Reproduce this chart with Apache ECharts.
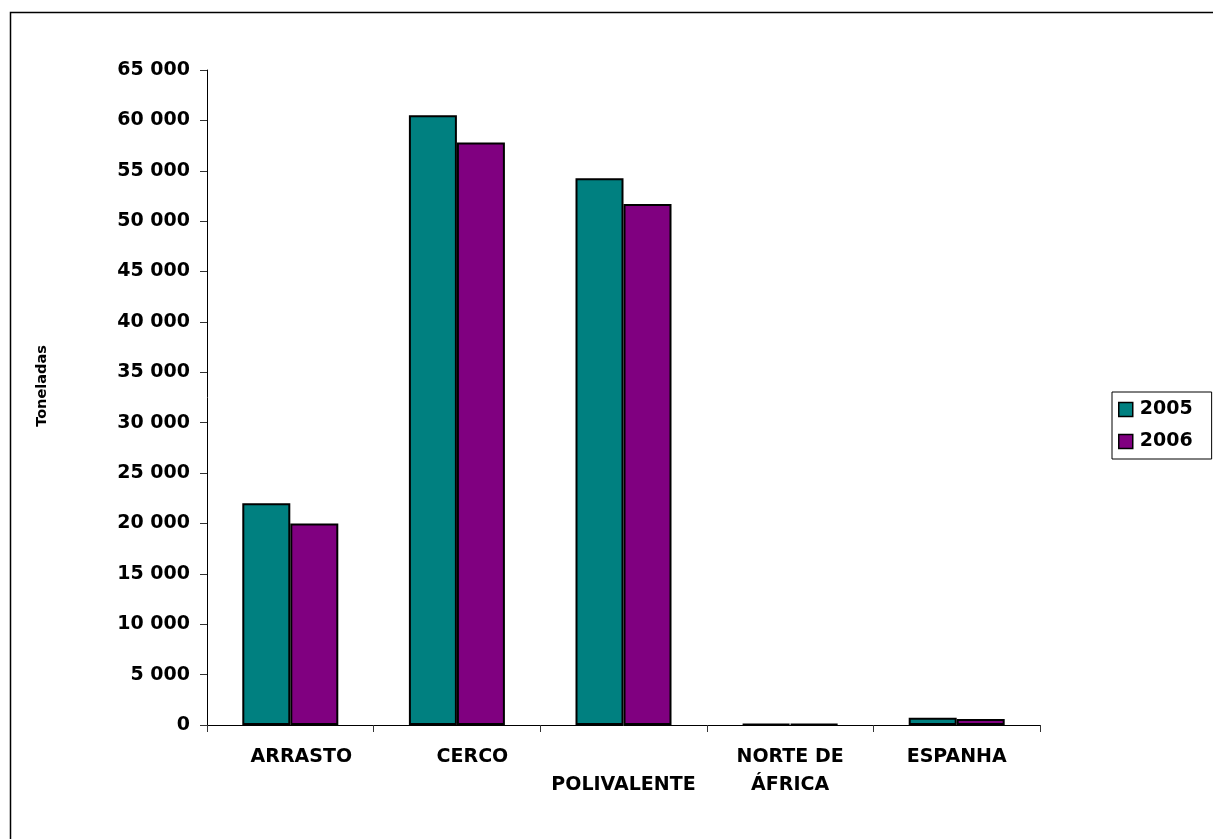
<!DOCTYPE html>
<html>
<head>
<meta charset="utf-8">
<script src="https://cdn.jsdelivr.net/npm/echarts@6/dist/echarts.min.js"></script>
<style>
html,body{margin:0;padding:0;background:#fff;}
#chart{width:1213px;height:839px;}
</style>
</head>
<body>
<div id="chart"></div>
<script>
const categories = ['ARRASTO', 'CERCO', 'POLIVALENTE', 'NORTE DE ÁFRICA', 'ESPANHA'];
const series2005 = [22000, 60500, 54250, 100, 720];
const series2006 = [20000, 57800, 51700, 90, 600];
const seriesNames = ['2005', '2006'];
const yTicks = { min: 0, max: 65000, interval: 5000 };
const yTitle = 'Toneladas';

const FONT = '"DejaVu Sans", Verdana, sans-serif';
const chart = echarts.init(document.getElementById('chart'), null, { renderer: 'canvas' });

function fmtNum(v) {
  return String(v).replace(/\B(?=(\d{3})+(?!\d))/g, ' ');
}
function catLabel(v) {
  if (v === 'ARRASTO') return '{a|ARRASTO}';
  if (v === 'CERCO') return '{b|CERCO}';
  if (v === 'POLIVALENTE') return '{c|}\n{c|POLIVALENTE}';
  if (v === 'NORTE DE ÁFRICA') return '{c|NORTE DE}\n{c|ÁFRICA}';
  return '{c|' + v + '}';
}
const baseRich = { fontFamily: FONT, fontWeight: 'bold', fontSize: 19, color: '#000', lineHeight: 28 };

chart.setOption({
  backgroundColor: '#fff',
  animation: false,
  graphic: [
    { type: 'rect', z: -10, silent: true, shape: { x: 10.5, y: 12.5, width: 1400, height: 1000 },
      style: { fill: 'none', stroke: '#000', lineWidth: 1.5 } },
    { type: 'text', x: 42, y: 386, rotation: Math.PI / 2,
      style: { text: yTitle, font: 'bold 14.5px ' + FONT, fill: '#000', align: 'center', verticalAlign: 'middle' } }
  ],
  grid: { left: 207, right: 173, top: 70, bottom: 114, containLabel: false },
  legend: {
    orient: 'vertical', left: 1112, top: 392,
    data: seriesNames,
    icon: 'rect', itemWidth: 14, itemHeight: 14, itemGap: 13,
    padding: [8, 19, 8, 6],
    borderColor: '#000', borderWidth: 1,
    itemStyle: { borderColor: '#000', borderWidth: 1.5 },
    textStyle: { fontFamily: FONT, fontWeight: 'bold', fontSize: 19, color: '#000', lineHeight: 19, padding: [0, 0, 0, 2] }
  },
  xAxis: {
    type: 'category', data: categories, boundaryGap: true,
    axisLine: { show: true, lineStyle: { color: '#000', width: 1 } },
    axisTick: { show: true, length: 7, lineStyle: { color: '#333', width: 1 } },
    axisLabel: {
      interval: 0, margin: 18, formatter: catLabel,
      rich: {
        a: Object.assign({}, baseRich, { padding: [0, 0, 0, 22] }),
        b: Object.assign({}, baseRich, { padding: [0, 0, 0, 31] }),
        c: Object.assign({}, baseRich)
      }
    },
    splitLine: { show: false }
  },
  yAxis: {
    type: 'value', min: yTicks.min, max: yTicks.max, interval: yTicks.interval,
    axisLine: { show: true, lineStyle: { color: '#000', width: 1 } },
    axisTick: { show: true, length: 7, lineStyle: { color: '#333', width: 1 } },
    axisLabel: { margin: 17, formatter: fmtNum, fontFamily: FONT, fontWeight: 'bold', fontSize: 19, color: '#000' },
    splitLine: { show: false }
  },
  series: [
    { name: seriesNames[0], type: 'bar', data: series2005, barWidth: 48, barGap: '0%',
      itemStyle: { color: '#008080', borderColor: '#000', borderWidth: 2 } },
    { name: seriesNames[1], type: 'bar', data: series2006, barWidth: 48, barGap: '0%',
      itemStyle: { color: '#800080', borderColor: '#000', borderWidth: 2 } }
  ]
});
</script>
</body>
</html>
